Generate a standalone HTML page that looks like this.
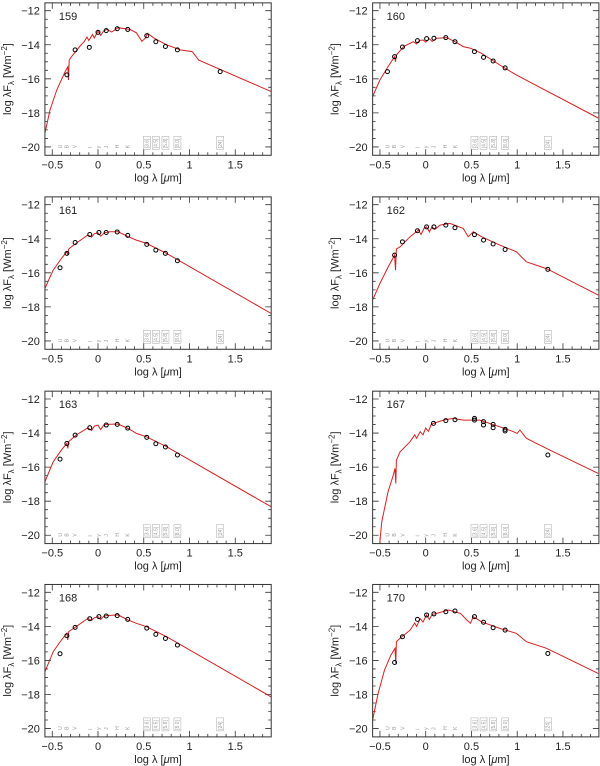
<!DOCTYPE html>
<html><head><meta charset="utf-8"><style>
html,body{margin:0;padding:0;background:#fff;}
svg{display:block;font-family:"Liberation Sans",sans-serif;}
</style></head><body>
<svg id="fig" width="600" height="766" viewBox="0 0 600 766"></svg>
<script>
// ---- data ----
const panelIds = ["159","160","161","162","163","167","168","170"];
const xTicks = [-0.5,0,0.5,1,1.5];
const xTickLabels = ["\u22120.5","0","0.5","1","1.5"];
const yTicks = [-12,-14,-16,-18,-20];
const yTickLabels = ["\u221212","\u221214","\u221216","\u221218","\u221220"];
const filterNames = ["U","B","V","I","y","J","H","K"];
const filterPos = [-0.415,-0.343,-0.252,-0.087,0.0,0.088,0.212,0.325];
const iracNames = ["[3.6]","[4.5]","[5.8]","[8.0]","[24]"];
const iracPos = [0.533,0.632,0.737,0.868,1.335];

const model159 = [[-0.58,-19.2],[-0.525,-17.83],[-0.45,-16.65],[-0.36,-15.58],[-0.33,-15.3],[-0.322,-16.07],[-0.315,-14.9],[-0.29,-14.7],[-0.2,-14.1],[-0.15,-13.8],[-0.12,-13.55],[-0.1,-13.75],[-0.06,-13.4],[-0.04,-13.6],[0.0,-13.2],[0.03,-13.45],[0.06,-13.2],[0.1,-13.1],[0.15,-13.25],[0.22,-13.0],[0.35,-13.1],[0.42,-13.3],[0.48,-13.8],[0.52,-13.6],[0.54,-13.33],[0.61,-13.6],[0.75,-14.0],[0.9,-14.3],[1.03,-14.4],[1.1,-14.9],[1.893,-16.75]];
const model160 = [[-0.58,-17.04],[-0.5,-16.07],[-0.4,-15.19],[-0.34,-14.7],[-0.33,-15.0],[-0.32,-14.6],[-0.24,-14.1],[-0.135,-13.82],[-0.1,-13.95],[-0.07,-13.75],[-0.026,-13.72],[0.0,-13.85],[0.04,-13.65],[0.07,-13.8],[0.12,-13.62],[0.23,-13.58],[0.32,-13.82],[0.41,-14.11],[0.49,-14.2],[0.61,-14.5],[0.81,-15.19],[0.99,-15.77],[1.885,-18.3]];
const model161 = [[-0.58,-16.92],[-0.49,-15.84],[-0.4,-15.16],[-0.34,-14.76],[-0.33,-14.95],[-0.32,-14.6],[-0.24,-14.27],[-0.11,-13.78],[-0.07,-13.9],[-0.04,-13.7],[0.0,-13.65],[0.03,-13.85],[0.07,-13.65],[0.13,-13.59],[0.22,-13.59],[0.33,-13.88],[0.42,-14.08],[0.53,-14.27],[0.75,-14.86],[1.893,-18.39]];
const model162 = [[-0.58,-17.6],[-0.5,-16.63],[-0.41,-15.65],[-0.34,-14.96],[-0.33,-15.84],[-0.32,-14.6],[-0.28,-14.47],[-0.17,-13.88],[-0.08,-13.49],[-0.05,-13.75],[-0.02,-13.4],[0.01,-13.3],[0.04,-13.6],[0.07,-13.3],[0.1,-13.45],[0.157,-13.2],[0.265,-13.1],[0.41,-13.39],[0.465,-13.88],[0.52,-13.59],[0.61,-13.88],[0.81,-14.37],[0.99,-14.76],[1.1,-15.35],[1.32,-15.75],[1.885,-17.31]];
const model163 = [[-0.58,-16.86],[-0.49,-15.69],[-0.4,-15.0],[-0.34,-14.61],[-0.33,-14.9],[-0.32,-14.5],[-0.24,-14.12],[-0.11,-13.69],[-0.07,-13.85],[-0.04,-13.6],[0.0,-13.53],[0.03,-13.8],[0.06,-13.55],[0.09,-13.49],[0.22,-13.47],[0.33,-13.73],[0.42,-14.02],[0.53,-14.22],[0.75,-14.8],[1.893,-18.33]];
const model167 = [[-0.505,-20.6],[-0.48,-19.2],[-0.41,-17.41],[-0.36,-16.57],[-0.335,-16.08],[-0.327,-16.96],[-0.32,-15.59],[-0.28,-15.1],[-0.17,-14.51],[-0.12,-14.1],[-0.1,-14.3],[-0.06,-13.92],[-0.03,-14.1],[0.0,-13.7],[0.03,-13.9],[0.06,-13.5],[0.085,-13.43],[0.195,-13.24],[0.3,-13.14],[0.41,-13.24],[0.59,-13.24],[0.81,-13.63],[0.96,-13.92],[1.0,-14.02],[1.03,-13.82],[1.1,-14.31],[1.32,-14.9],[1.885,-16.37]];
const model168 = [[-0.58,-16.67],[-0.49,-15.49],[-0.4,-14.8],[-0.34,-14.4],[-0.33,-14.8],[-0.32,-14.31],[-0.24,-14.02],[-0.11,-13.53],[-0.07,-13.65],[-0.04,-13.5],[0.0,-13.43],[0.03,-13.6],[0.06,-13.42],[0.09,-13.37],[0.22,-13.33],[0.33,-13.63],[0.42,-13.82],[0.53,-14.02],[0.75,-14.61],[1.893,-18.14]];
const model170 = [[-0.58,-19.5],[-0.52,-17.94],[-0.45,-16.57],[-0.38,-15.69],[-0.335,-15.29],[-0.327,-16.18],[-0.32,-14.9],[-0.28,-14.7],[-0.17,-14.22],[-0.12,-13.8],[-0.1,-14.0],[-0.06,-13.55],[-0.03,-13.75],[0.01,-13.33],[0.04,-13.6],[0.07,-13.3],[0.12,-13.24],[0.25,-13.04],[0.38,-13.24],[0.45,-13.63],[0.49,-13.82],[0.52,-13.43],[0.61,-13.73],[0.81,-14.12],[0.99,-14.41],[1.1,-14.9],[1.32,-15.29],[1.885,-16.76]];

const obs159 = [[-0.34,-15.77],[-0.25,-14.3],[-0.095,-14.15],[0.0,-13.27],[0.09,-13.17],[0.21,-13.06],[0.325,-13.1],[0.533,-13.47],[0.632,-13.82],[0.737,-14.1],[0.868,-14.3],[1.335,-15.58]];
const obs160 = [[-0.418,-15.58],[-0.34,-14.7],[-0.254,-14.13],[-0.09,-13.76],[0.01,-13.64],[0.09,-13.62],[0.22,-13.58],[0.32,-13.82],[0.533,-14.4],[0.632,-14.74],[0.737,-14.95],[0.868,-15.36]];
const obs161 = [[-0.415,-15.7],[-0.34,-14.86],[-0.25,-14.22],[-0.09,-13.75],[0.01,-13.63],[0.09,-13.63],[0.21,-13.6],[0.325,-13.8],[0.533,-14.33],[0.632,-14.67],[0.737,-14.86],[0.868,-15.29]];
const obs162 = [[-0.34,-14.96],[-0.254,-14.18],[-0.09,-13.53],[0.01,-13.3],[0.09,-13.3],[0.22,-13.2],[0.32,-13.35],[0.533,-13.76],[0.632,-14.08],[0.737,-14.31],[0.868,-14.63],[1.335,-15.8]];
const obs163 = [[-0.415,-15.53],[-0.34,-14.61],[-0.25,-14.12],[-0.09,-13.69],[0.09,-13.53],[0.21,-13.49],[0.325,-13.71],[0.533,-14.25],[0.632,-14.63],[0.737,-14.82],[0.868,-15.29]];
const obs167 = [[0.085,-13.43],[0.22,-13.27],[0.32,-13.22],[0.533,-13.14],[0.533,-13.24],[0.632,-13.33],[0.632,-13.53],[0.737,-13.49],[0.737,-13.69],[0.868,-13.78],[0.868,-13.88],[1.335,-15.29]];
const obs168 = [[-0.415,-15.61],[-0.34,-14.55],[-0.25,-14.06],[-0.09,-13.55],[0.01,-13.43],[0.09,-13.39],[0.21,-13.37],[0.325,-13.59],[0.533,-14.1],[0.632,-14.47],[0.737,-14.71],[0.868,-15.1]];
const obs170 = [[-0.34,-16.12],[-0.254,-14.61],[-0.09,-13.59],[0.01,-13.33],[0.09,-13.27],[0.22,-13.14],[0.32,-13.1],[0.533,-13.43],[0.632,-13.76],[0.737,-14.08],[0.868,-14.22],[1.335,-15.59]];

const models = [model159,model160,model161,model162,model163,model167,model168,model170];
const observations = [obs159,obs160,obs161,obs162,obs163,obs167,obs168,obs170];

// ---- layout ----
const NS = "http://www.w3.org/2000/svg";
const svg = document.getElementById("fig");
const XMIN=-0.58, XMAX=1.893, YMAX=-11.54, YMIN=-20.49;
const SX=91.5, SY=17.03;
const colX0=[98,425.7];
const rowY0=[10.7,204.7,399,592.3];
function mk(tag, attrs, parent){const e=document.createElementNS(NS,tag);for(const k in attrs)e.setAttribute(k,attrs[k]);(parent||svg).appendChild(e);return e;}

panelIds.forEach((id,i)=>{
  const col=i%2,row=Math.floor(i/2);
  const ox=colX0[col], oy=rowY0[row];
  const xs=v=>ox+v*SX;
  const ys=v=>oy+(-12-v)*SY;
  const g=mk("g",{});
  
  
  const L=xs(XMIN),R=xs(XMAX),T=ys(YMAX),B=ys(YMIN);
  const clipId="clip"+i;
  const cp=mk("clipPath",{id:clipId},g);mk("rect",{x:L,y:T,width:R-L,height:B-T},cp);
  let d="";
  for(let k=-6;k<=19;k++){const v=k/10;if(v<XMIN||v>XMAX)continue;const X=xs(v);const len=(k%5===0)?6:3;d+=`M${X},${B}v${-len}M${X},${T}v${len}`;}
  for(let k=-41;k<=-23;k++){const v=k/2;if(v<YMIN||v>YMAX)continue;const Y=ys(v);const len=(k%4===0)?6:3;d+=`M${L},${Y}h${len}M${R},${Y}h${-len}`;}
  const tk=mk("path",{d:d,stroke:"#333","stroke-width":0.8,fill:"none"},g);
  
  
  xTicks.forEach((v,j)=>{const t=mk("text",{x:xs(v),y:B+13,"font-size":11,"text-anchor":"middle",fill:"#222"},g);t.textContent=xTickLabels[j];
    
    });
  yTicks.forEach((v,j)=>{const t=mk("text",{x:L-5,y:ys(v)+4,"font-size":11,"text-anchor":"end",fill:"#222"},g);t.textContent=yTickLabels[j];
    
    });
  const xt=mk("text",{x:(L+R)/2,y:B+26,"font-size":11,"text-anchor":"middle",fill:"#222"},g);
  xt.innerHTML='log &#955; [<tspan font-style="italic">&#956;</tspan>m]';
  
  
  const yt=mk("text",{x:0,y:0,"font-size":11,"text-anchor":"middle",fill:"#222",transform:`translate(${L-34},${(T+B)/2}) rotate(-90)`},g);
  yt.innerHTML='log &#955;F<tspan font-size="8" dy="3">&#955;</tspan><tspan dy="-3"> [Wm</tspan><tspan font-size="8" dy="-4">&#8722;2</tspan><tspan dy="4">]</tspan>';
  
  
  const pl=mk("text",{x:L+14,y:T+17,"font-size":11,fill:"#222"},g);pl.textContent=id;
  
  
  filterNames.forEach((n,j)=>{const X=xs(filterPos[j]);const t=mk("text",{x:0,y:0,"font-size":5,fill:"#999","text-anchor":"start",transform:`translate(${X+1.8},${B-7}) rotate(-90)`},g);t.textContent=n;
    
    });
  iracNames.forEach((n,j)=>{const X=xs(iracPos[j]);const t=mk("text",{x:0,y:0,"font-size":5,fill:"#999","text-anchor":"start",transform:`translate(${X+1.8},${B-7}) rotate(-90)`},g);t.textContent=n;
    
    
    const r=mk("rect",{x:X-3.5,y:B-19,width:7,height:13,fill:"none",stroke:"#aaa","stroke-width":0.5},g);
    
    });
  const md=models[i].map((p,j)=>(j?"L":"M")+xs(p[0]).toFixed(1)+","+ys(p[1]).toFixed(1)).join("");
  const ml=mk("path",{d:md,stroke:"#d42020","stroke-width":1,fill:"none","clip-path":`url(#${clipId})`},g);
  
  
  observations[i].forEach(p=>{const c=mk("circle",{cx:xs(p[0]),cy:ys(p[1]),r:2,fill:"none",stroke:"#000","stroke-width":1},g);
    
    });
  const fr=mk("rect",{x:L,y:T,width:R-L,height:B-T,fill:"none",stroke:"#333","stroke-width":1},g);
  
  
});
</script>
</body></html>
